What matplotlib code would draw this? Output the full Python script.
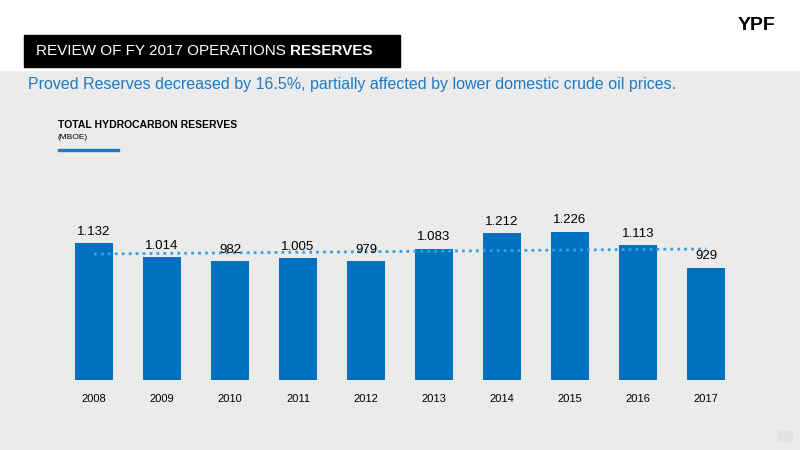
import matplotlib
matplotlib.use("Agg")
import matplotlib.pyplot as plt
from matplotlib.patches import Rectangle

years = ["2008","2009","2010","2011","2012","2013","2014","2015","2016","2017"]
reserves = [1132, 1014, 982, 1005, 979, 1083, 1212, 1226, 1113, 929]
labels = ["1.132","1.014","982","1.005","979","1.083","1.212","1.226","1.113","929"]
trend = [1041, 1083]

plt.rcParams['font.family'] = ['Liberation Sans', 'DejaVu Sans']
fig = plt.figure(figsize=(8, 4.5), dpi=100)
fig.patch.set_facecolor('#ebebeb')
fig.add_artist(Rectangle((0, 1-70/450), 1, 70/450, transform=fig.transFigure, color='white', zorder=0))
fig.add_artist(Rectangle((24/800, 1-67/450), 376/800, 32/450, transform=fig.transFigure, color='black', zorder=1))
t1 = fig.text(36/800, 1-51/450, "REVIEW OF FY 2017 OPERATIONS ", fontsize=11, color='white', va='center')
fig.text(1.0, 0.5, "RESERVES", fontsize=11, color='white', va='center', weight='bold',
         transform=matplotlib.transforms.offset_copy(t1.get_transform(), fig=fig, x=0, y=0))
fig.texts.pop()
from matplotlib.text import Annotation
fig.add_artist(Annotation("RESERVES", xy=(1, 0.5), xycoords=t1, va='center', ha='left',
                          fontsize=11, color='white', weight='bold'))
fig.text(775/800, 1-25/450, "YPF", fontsize=14, weight='bold', ha='right', va='center')
fig.text(28/800, 1-84/450, "Proved Reserves decreased by 16.5%, partially affected by lower domestic crude oil prices.",
         fontsize=11.5, color='#1f7ac4', va='center')
fig.text(58/800, 1-125/450, "TOTAL HYDROCARBON RESERVES", fontsize=7.5, weight='bold', va='center')
fig.text(58/800, 1-137/450, "(MBOE)", fontsize=6, va='center')
fig.add_artist(Rectangle((58/800, 1-151/450), 61/800, 2.5/450, transform=fig.transFigure, color='#1f7ac4'))
fig.add_artist(Rectangle((778/800, 9/450), 14/800, 10/450, transform=fig.transFigure, color='#e2e2e2'))

ax = fig.add_axes([60/800, 70/450, 680/800, 180/450])
ax.set_facecolor('none')
x = list(range(len(years)))
ax.bar(x, reserves, width=0.56, color='#0070c0')
for xi, v, l in zip(x, reserves, labels):
    ax.text(xi, v + 45, l, ha='center', va='bottom', fontsize=9.5)
ax.plot([0, 9], trend, linestyle=(0, (1, 1.5)), color='#3a9ee8', linewidth=2)
ax.set_xlim(-0.5, 9.5)
ax.set_ylim(0, 1487)
ax.set_xticks(x)
ax.set_xticklabels(years, fontsize=8)
ax.tick_params(length=0, pad=10)
ax.set_yticks([])
for s in ax.spines.values():
    s.set_visible(False)
fig.savefig("out.png", dpi=100)
